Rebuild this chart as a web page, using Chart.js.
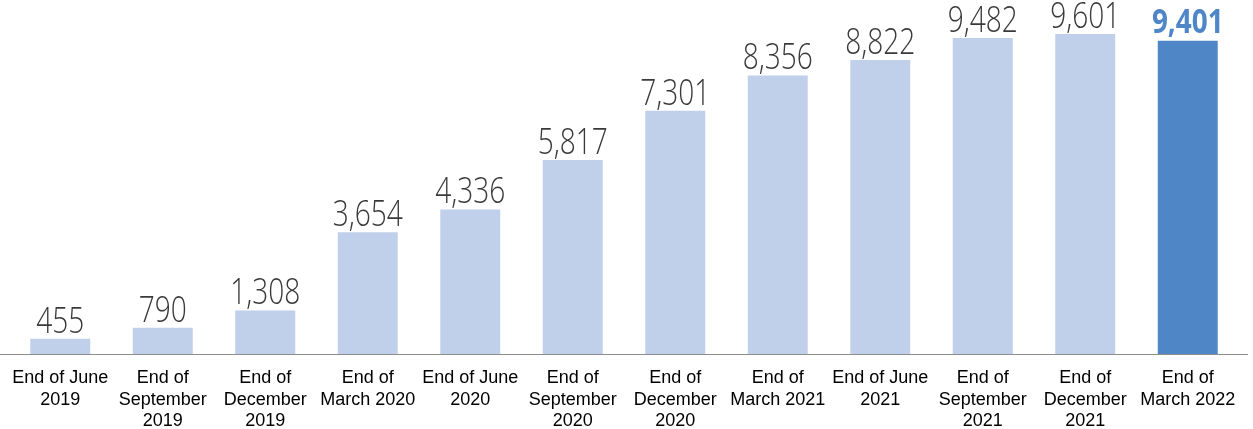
<!DOCTYPE html>
<html>
<head>
<meta charset="utf-8">
<script src="https://cdn.jsdelivr.net/npm/chart.js@4/dist/chart.umd.min.js"></script>
<style>
  html, body { margin: 0; padding: 0; background: #ffffff; overflow: hidden; }
  #wrap { width: 1253px; height: 429px; position: relative; }
  canvas { display: block; }
</style>
</head>
<body>
<div id="wrap"><canvas id="c" width="1253" height="429"></canvas></div>
<script>
const categories = [
  ["End of June", "2019"],
  ["End of", "September", "2019"],
  ["End of", "December", "2019"],
  ["End of", "March 2020"],
  ["End of June", "2020"],
  ["End of", "September", "2020"],
  ["End of", "December", "2020"],
  ["End of", "March 2021"],
  ["End of June", "2021"],
  ["End of", "September", "2021"],
  ["End of", "December", "2021"],
  ["End of", "March 2022"]
];
const values = [455, 790, 1308, 3654, 4336, 5817, 7301, 8356, 8822, 9482, 9601, 9401];
const valueLabels = ["455", "790", "1,308", "3,654", "4,336", "5,817", "7,301", "8,356", "8,822", "9,482", "9,601", "9,401"];
const highlightIndex = 11;

const lightColor = "#c0cfea";
const darkColor = "#4e86c6";

const labelPlugin = {
  id: "valueLabels",
  afterDatasetsDraw(chart) {
    const ctx = chart.ctx;
    const meta = chart.getDatasetMeta(0);
    meta.data.forEach((bar, i) => {
      const hi = i === highlightIndex;
      ctx.save();
      ctx.font = hi ? "700 34px 'Open Sans'" : "300 36px 'Open Sans'";
      ctx.fillStyle = hi ? "#4f86c8" : "#3a3a3a";
      ctx.textAlign = "center";
      ctx.textBaseline = "alphabetic";
      ctx.translate(bar.x, bar.y - (hi ? 8 : 6));
      ctx.scale(hi ? 0.82 : 0.78, 1);
      ctx.fillText(valueLabels[i], 0, 0);
      ctx.restore();
    });
  }
};

const baselinePlugin = {
  id: "baseline",
  afterDatasetsDraw(chart) {
    const ctx = chart.ctx;
    const y = Math.round(chart.scales.y.getPixelForValue(0)) + 0.5;
    ctx.save();
    ctx.strokeStyle = "#8c8c8c";
    ctx.lineWidth = 1.2;
    ctx.beginPath();
    ctx.moveTo(0, y);
    ctx.lineTo(1248, y);
    ctx.stroke();
    ctx.restore();
  }
};

new Chart(document.getElementById("c"), {
  type: "bar",
  data: {
    labels: categories,
    datasets: [{
      data: values,
      backgroundColor: values.map((v, i) => i === highlightIndex ? darkColor : lightColor),
      borderWidth: 0,
      barPercentage: 0.585,
      categoryPercentage: 1.0
    }]
  },
  options: {
    responsive: false,
    animation: false,
    devicePixelRatio: 1,
    layout: { padding: { left: 9, right: 14, top: 0, bottom: 0 } },
    plugins: { legend: { display: false }, tooltip: { enabled: false } },
    scales: {
      x: {
        grid: { display: false },
        border: { display: false },
        afterFit(scale) { scale.height = 75; },
        ticks: {
          color: "#000000",
          font: { family: "'Liberation Sans', Arial, sans-serif", size: 18, lineHeight: 1.17 },
          padding: 6,
          maxRotation: 0,
          autoSkip: false
        }
      },
      y: {
        display: false,
        min: 0,
        max: 10621
      }
    }
  },
  plugins: [labelPlugin, baselinePlugin]
});
</script>
</body>
</html>
